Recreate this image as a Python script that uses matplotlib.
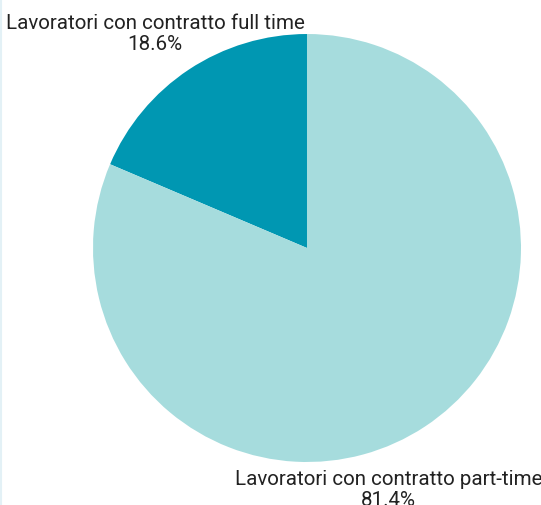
import matplotlib.pyplot as plt
from matplotlib.lines import Line2D

categories = ["Lavoratori con contratto full time", "Lavoratori con contratto part-time"]
values = [18.6, 81.4]
colors = ["#0097b2", "#a6dcdd"]

plt.rcParams['font.family'] = ['Roboto', 'DejaVu Sans']

fig = plt.figure(figsize=(5.41, 5.06), dpi=100)
ax = fig.add_axes([0.1719, 0.0850, 0.7911, 0.8458])

wedges, _ = ax.pie(values, colors=colors, startangle=90, counterclock=True,
                   radius=1, wedgeprops=dict(linewidth=0))
ax.set_xlim(-1, 1)
ax.set_ylim(-1, 1)
ax.set_aspect('equal')
ax.axis('off')

# etichette
label_pos = [(-0.71, 1.005), (0.38, -1.125)]
for cat, val, (x, y) in zip(categories, values, label_pos):
    ax.text(x, y, f"{cat}\n{val:.1f}%", ha='center', va='center',
            fontsize=14.8, color='#222222', linespacing=1.15, clip_on=False)

# sottile bordo a sinistra
fig.add_artist(Line2D([0.002, 0.002], [0, 1], color='#e3f1f6', lw=1.5,
                      transform=fig.transFigure))

plt.savefig('out.png', dpi=100)
